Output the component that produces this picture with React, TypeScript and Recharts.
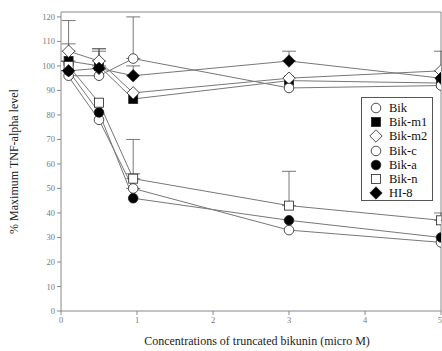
import React from "react";
import {
  LineChart, Line, XAxis, YAxis, ErrorBar, ReferenceLine
} from "recharts";

// concentrations (micro M)
const concStart = [0, 0.5, 0.95, 3, 5];
const conc = [0.1, 0.5, 0.95, 3, 5];

const bik = [100, 78, 50, 33, 28];
const bikM1 = [102, 100, 86.5, 94, 93];
const bikM2 = [106, 102, 89, 95, 98];
const bikC = [96, 96, 103, 91, 92];
const bikA = [98, 81, 46, 37, 30];
const bikN = [100, 85, 54, 43, 37];
const hi8 = [98, 99, 96, 102, 95];

// upper error only
const bikErr = [null, null, 6, null, null];
const bikM1Err = [7, 6, null, null, null];
const bikM2Err = [12.5, 5, null, null, 8];
const bikCErr = [null, null, 17, null, null];
const bikAErr = [null, null, null, null, null];
const bikNErr = [null, null, 16, 14, 3];
const hi8Err = [null, 8, 4, 4, null];

const yTicks = [0, 10, 20, 30, 40, 50, 60, 70, 80, 90, 100, 110, 120];
const xTicks = [0, 1, 2, 3, 4, 5];

type Shape = "circle" | "fcircle" | "square" | "fsquare" | "diamond" | "fdiamond";

const series: { name: string; x: number[]; y: number[]; err: (number | null)[]; shape: Shape }[] = [
  { name: "Bik", x: concStart, y: bik, err: bikErr, shape: "circle" },
  { name: "Bik-m1", x: conc, y: bikM1, err: bikM1Err, shape: "fsquare" },
  { name: "Bik-m2", x: conc, y: bikM2, err: bikM2Err, shape: "diamond" },
  { name: "Bik-c", x: conc, y: bikC, err: bikCErr, shape: "circle" },
  { name: "Bik-a", x: conc, y: bikA, err: bikAErr, shape: "fcircle" },
  { name: "Bik-n", x: conc, y: bikN, err: bikNErr, shape: "square" },
  { name: "HI-8", x: conc, y: hi8, err: hi8Err, shape: "fdiamond" },
];

function Marker({ cx, cy, shape }: { cx: number; cy: number; shape: Shape }) {
  const filled = shape.startsWith("f");
  const fill = filled ? "#000" : "#fff";
  const stroke = "#222";
  if (shape === "circle" || shape === "fcircle")
    return <circle cx={cx} cy={cy} r={4.8} fill={fill} stroke={stroke} strokeWidth={0.8} />;
  if (shape === "square" || shape === "fsquare")
    return <rect x={cx - 4.5} y={cy - 4.5} width={9} height={9} fill={fill} stroke={stroke} strokeWidth={0.8} />;
  const d = 6.2;
  return (
    <polygon
      points={`${cx},${cy - d} ${cx + d},${cy} ${cx},${cy + d} ${cx - d},${cy}`}
      fill={fill}
      stroke={stroke}
      strokeWidth={0.8}
    />
  );
}

const serif = "'Liberation Serif', 'DejaVu Serif', serif";

function LegendBox() {
  return (
    <div
      style={{
        position: "absolute",
        left: 361,
        top: 97,
        border: "1px solid #555",
        background: "#fff",
        width: 72,
        height: 104,
        boxSizing: "border-box",
        paddingTop: 3,
        fontSize: 12.5,
        color: "#111",
      }}
    >
      {series.map((s) => (
        <div key={s.name} style={{ display: "flex", alignItems: "center", height: 14.2 }}>
          <svg width={24} height={14} style={{ flex: "none" }}>
            <Marker cx={14} cy={7} shape={s.shape} />
          </svg>
          <span style={{ marginLeft: 3, lineHeight: "14px" }}>{s.name}</span>
        </div>
      ))}
    </div>
  );
}

export default function App() {
  return (
    <div style={{ position: "absolute", left: 0, top: 0, width: 442, height: 351, background: "#fff", fontFamily: serif }}>
      <LineChart width={442} height={351} margin={{ top: 12, right: 1, bottom: 0, left: 0 }}>
        <XAxis
          type="number"
          dataKey="x"
          domain={[0, 5]}
          ticks={xTicks}
          allowDataOverflow
          stroke="#888"
          tickSize={4}
          height={40}
          tick={{ fontSize: 8.5, fill: "#777" }}
          label={{ value: "Concentrations of truncated bikunin (micro M)", position: "insideBottom", offset: 6, fontSize: 12, fill: "#222", dx: 6 }}
        />
        <YAxis
          type="number"
          dataKey="y"
          domain={[0, 122]}
          ticks={yTicks}
          allowDataOverflow
          stroke="#888"
          tickSize={4}
          width={61}
          tick={{ fontSize: 8.5, fill: "#777" }}
          label={{ value: "% Maximum TNF-alpha level", angle: -90, position: "insideLeft", offset: 14, fontSize: 12, fill: "#222", style: { textAnchor: "middle" } }}
        />
        <ReferenceLine y={122} stroke="#888" />
        <ReferenceLine x={5} stroke="#888" />
        {series.map((s) => (
          <Line
            key={s.name}
            name={s.name}
            data={s.x.map((x, i) => ({ x, y: s.y[i], err: s.err[i] == null ? null : [0, s.err[i]] }))}
            dataKey="y"
            stroke="#777"
            strokeWidth={1}
            isAnimationActive={false}
            dot={(p: any) => <Marker key={`${s.name}-${p.index}`} cx={p.cx} cy={p.cy} shape={s.shape} />}
          >
            <ErrorBar dataKey="err" direction="y" width={7} stroke="#555" strokeWidth={0.8} />
          </Line>
        ))}
      </LineChart>
      <LegendBox />
    </div>
  );
}
